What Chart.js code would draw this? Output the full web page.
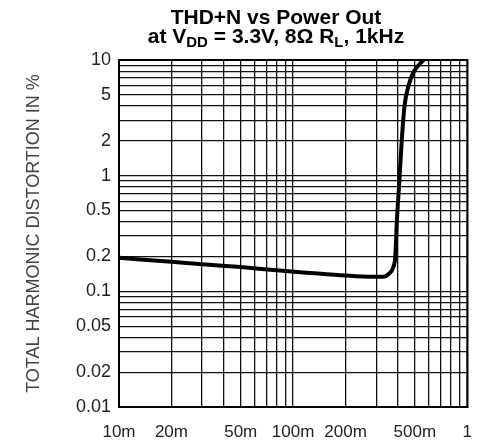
<!DOCTYPE html>
<html>
<head>
<meta charset="utf-8">
<script src="https://cdn.jsdelivr.net/npm/chart.js@4"></script>
<style>
  html, body { margin: 0; padding: 0; background: #fff; }
  #wrap { position: relative; width: 487px; height: 447px; }
  #title {
    position: absolute; top: 7px; left: 65px; width: 422px;
    text-align: center; font: bold 21px "Liberation Sans", Arial, sans-serif;
    line-height: 19px; color: #000;
  }
  #title sub { font-size: 15px; vertical-align: -4px; line-height: 0; }
</style>
</head>
<body>
<div id="wrap">
  <div id="title">THD+N vs Power Out<br>at V<sub>DD</sub> = 3.3V, 8Ω R<sub>L</sub>, 1kHz</div>
  <canvas id="chart" width="487" height="447"></canvas>
</div>
<script>
// power out (W) vs THD+N (%)
const powerOut = [0.01, 0.02, 0.033, 0.05, 0.08, 0.12, 0.2, 0.28, 0.33, 0.355, 0.375, 0.386, 0.394, 0.407, 0.421, 0.436, 0.46, 0.49, 0.56];
const thdn = [0.195, 0.18, 0.17, 0.162, 0.152, 0.145, 0.137, 0.134, 0.134, 0.142, 0.16, 0.2, 0.4, 0.88, 2.07, 4.0, 6.0, 7.8, 10];

const xTickValues = [0.01, 0.02, 0.05, 0.1, 0.2, 0.5, 1];
const xTickLabels = ['10m', '20m', '50m', '100m', '200m', '500m', '1'];
const yTickValues = [0.01, 0.02, 0.05, 0.1, 0.2, 0.5, 1, 2, 5, 10];
const yTickLabels = ['0.01', '0.02', '0.05', '0.1', '0.2', '0.5', '1', '2', '5', '10'];

// every 1..9 x 10^k between min and max
function logGrid(min, max) {
  let out = [];
  for (let e = Math.round(Math.log10(min)); e < Math.round(Math.log10(max)); e++) {
    for (let m = 1; m < 10; m++) out.push(+(m * Math.pow(10, e)).toPrecision(3));
  }
  out.push(max);
  return out.map(v => ({ value: v }));
}

function labelFor(values, labels) {
  return (v) => {
    const i = values.findIndex(t => Math.abs(t - v) / t < 1e-6);
    return i >= 0 ? labels[i] : '';
  };
}

const frame = {
  id: 'frame',
  afterDatasetsDraw(chart) {
    const { ctx, chartArea: a } = chart;
    ctx.save();
    ctx.strokeStyle = '#000';
    ctx.lineWidth = 2;
    ctx.strokeRect(a.left, a.top, a.right - a.left, a.bottom - a.top);
    ctx.restore();
  }
};

const xLabel = labelFor(xTickValues, xTickLabels);
const yLabel = labelFor(yTickValues, yTickLabels);

new Chart(document.getElementById('chart').getContext('2d'), {
  type: 'line',
  data: {
    datasets: [{
      data: powerOut.map((p, i) => ({ x: p, y: thdn[i] })),
      borderColor: '#000',
      borderWidth: 4,
      pointRadius: 0,
      cubicInterpolationMode: 'monotone',
      fill: false
    }]
  },
  options: {
    responsive: false,
    animation: false,
    layout: { padding: { top: 60, right: 18, left: 0, bottom: 0 } },
    plugins: { legend: { display: false }, tooltip: { enabled: false } },
    scales: {
      x: {
        type: 'logarithmic',
        min: 0.01,
        max: 1,
        afterBuildTicks: (s) => { s.ticks = logGrid(0.01, 1); },
        afterFit: (s) => { s.height = 40; },
        grid: { color: '#111', lineWidth: 1.3, drawTicks: false },
        border: { display: true, color: '#000', width: 2 },
        ticks: {
          autoSkip: false, maxRotation: 0, padding: 15, color: '#222',
          font: { size: 17, family: "Liberation Sans, Arial, sans-serif" },
          callback: (v) => xLabel(v)
        }
      },
      y: {
        type: 'logarithmic',
        min: 0.01,
        max: 10,
        afterBuildTicks: (s) => { s.ticks = logGrid(0.01, 10); },
        afterFit: (s) => { s.width = 119; },
        grid: { color: '#111', lineWidth: 1.3, drawTicks: false },
        border: { display: true, color: '#000', width: 2 },
        ticks: {
          autoSkip: false, padding: 8, color: '#222',
          font: { size: 18, family: "Liberation Sans, Arial, sans-serif" },
          callback: (v) => yLabel(v)
        },
        title: {
          display: true,
          text: 'TOTAL HARMONIC DISTORTION IN %',
          color: '#444',
          font: { size: 18, family: "Liberation Sans, Arial, sans-serif" },
          padding: { top: 23, bottom: 0 }
        }
      }
    }
  },
  plugins: [frame]
});
</script>
</body>
</html>
